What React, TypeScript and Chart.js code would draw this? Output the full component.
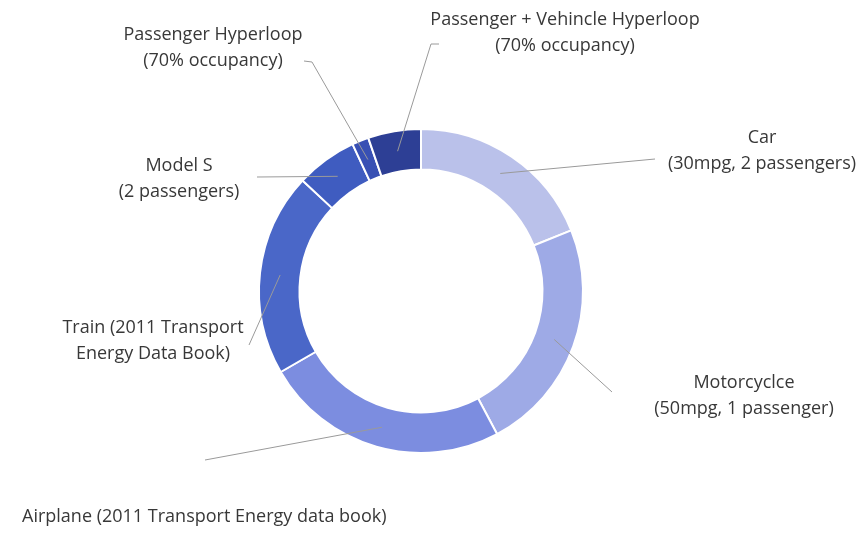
import React, { useEffect, useRef } from "react";
import { Chart, registerables } from "chart.js";

Chart.register(...registerables);

// ---- data ----
const categories = [
  "Car",
  "Motorcycle",
  "Airplane",
  "Train",
  "Model S",
  "Passenger Hyperloop",
  "Passenger + Vehicle Hyperloop",
];
const energyShare = [68, 84, 88, 73, 22, 6, 19];
const labelLines: string[][] = [
  ["Car", "(30mpg, 2 passengers)"],
  ["Motorcyclce", "(50mpg, 1 passenger)"],
  ["Airplane (2011 Transport Energy data book)"],
  ["Train (2011 Transport", "Energy Data Book)"],
  ["Model S", "(2 passengers)"],
  ["Passenger Hyperloop", "(70% occupancy)"],
  ["Passenger + Vehincle Hyperloop", "(70% occupancy)"],
];

// ---- styles / layout ----
const sliceColors = [
  "#bac1ea",
  "#9eaae6",
  "#7c8de0",
  "#4a67c8",
  "#3f5cc0",
  "#3850b4",
  "#2d3f95",
];
// text anchor (x, y of first line), alignment, leader start points
const labelLayout = [
  { x: 762, y: 138, align: "center", pts: [[655, 159]] },
  { x: 744, y: 383, align: "center", pts: [[612, 392]] },
  { x: 22, y: 517, align: "left", pts: [[205, 460]] },
  { x: 153, y: 328, align: "center", pts: [[249, 345]] },
  { x: 179, y: 166, align: "center", pts: [[257, 177]] },
  { x: 213, y: 35, align: "center", pts: [[304, 61], [312, 62]] },
  { x: 565, y: 20, align: "center", pts: [[439, 44], [431, 44]] },
];
const LINE_GAP = 26;
const FONT = '18px "Open Sans", sans-serif';

const labelPlugin = {
  id: "outerLabels",
  afterDraw(chart: any) {
    const ctx = chart.ctx;
    const meta = chart.getDatasetMeta(0);
    ctx.save();
    meta.data.forEach((arc: any, i: number) => {
      const p = arc.getProps(
        ["x", "y", "startAngle", "endAngle", "innerRadius", "outerRadius"],
        true
      );
      const mid = (p.startAngle + p.endAngle) / 2;
      const r = (p.innerRadius + p.outerRadius) / 2;
      const ex = p.x + Math.cos(mid) * r;
      const ey = p.y + Math.sin(mid) * r;
      const lay = labelLayout[i];
      ctx.strokeStyle = "#9a9a9a";
      ctx.lineWidth = 1;
      ctx.beginPath();
      lay.pts.forEach((pt: number[], k: number) => {
        if (k === 0) ctx.moveTo(pt[0], pt[1]);
        else ctx.lineTo(pt[0], pt[1]);
      });
      ctx.lineTo(ex, ey);
      ctx.stroke();

      ctx.fillStyle = "#383838";
      ctx.font = FONT;
      ctx.textAlign = lay.align;
      ctx.textBaseline = "middle";
      labelLines[i].forEach((t, k) => {
        ctx.fillText(t, lay.x, lay.y + k * LINE_GAP);
      });
    });
    ctx.restore();
  },
};

export default function App() {
  const ref = useRef<HTMLCanvasElement | null>(null);
  useEffect(() => {
    document.body.style.margin = "0";
    const chart = new Chart(ref.current as HTMLCanvasElement, {
      type: "doughnut",
      data: {
        labels: categories,
        datasets: [
          {
            data: energyShare,
            backgroundColor: sliceColors,
            borderColor: "#ffffff",
            borderWidth: 2,
          },
        ],
      },
      options: {
        animation: false,
        responsive: false,
        cutout: "75%",
        layout: { padding: { top: 128, bottom: 87, left: 0, right: 22 } },
        plugins: {
          legend: { display: false },
          tooltip: { enabled: false },
        },
      },
      plugins: [labelPlugin],
    });
    return () => chart.destroy();
  }, []);
  return (
    <div style={{ position: "absolute", left: 0, top: 0, width: 864, height: 541, background: "#fff" }}>
      <canvas ref={ref} width={864} height={541} style={{ width: 864, height: 541 }} />
    </div>
  );
}
